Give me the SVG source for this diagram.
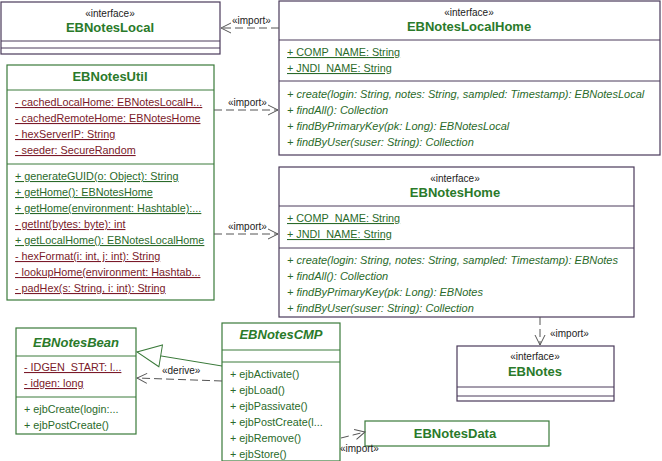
<svg xmlns="http://www.w3.org/2000/svg" width="662" height="461" viewBox="0 0 662 461">
<style>
text{font-family:"Liberation Sans",Arial,sans-serif;font-size:10.8px;fill:#2a6a2a}
.st{fill:#222;text-anchor:middle;font-size:10px}
.nm{font-size:13px;font-weight:bold;fill:#2a7a2a;text-anchor:middle}
.it{font-style:italic;font-size:11px}
.u{text-decoration:underline}
.r{fill:#7a1a2a}
.bp{fill:#fff;stroke:#4a3a5a;stroke-width:1.2}
.bg{fill:#fff;stroke:#3a7a3a;stroke-width:1.2}
.lp{stroke:#4a3a5a;stroke-width:1}
.lg{stroke:#3a7a3a;stroke-width:1}
.c{fill:none;stroke:#555;stroke-width:1;stroke-dasharray:8,4}
.cg{fill:none;stroke:#3a7a3a;stroke-width:1}
.lab{fill:#222;font-size:10px}
</style>
<defs>
<marker id="open" markerWidth="12" markerHeight="12" refX="11" refY="6" orient="auto" markerUnits="userSpaceOnUse"><path d="M1,1 L11,6 L1,11" fill="none" stroke="#555"/></marker>
<marker id="tri" markerWidth="26" markerHeight="26" refX="25" refY="13" orient="auto" markerUnits="userSpaceOnUse"><path d="M1,2 L25,13 L1,24 Z" fill="#fff" stroke="#3a7a3a"/></marker>
</defs>
<rect width="662" height="461" fill="#fff"/>
<g id="EBNotesLocal">
<rect class="bp" x="1" y="2" width="219" height="52"/>
<line class="lp" x1="1" y1="41" x2="220" y2="41"/><line class="lp" x1="1" y1="48" x2="220" y2="48"/>
<text class="st" x="110" y="17">«interface»</text><text class="nm" x="110" y="32">EBNotesLocal</text>
</g>
<g id="EBNotesLocalHome">
<rect class="bp" x="279" y="1" width="381" height="154"/>
<line class="lp" x1="279" y1="40" x2="660" y2="40"/><line class="lp" x1="279" y1="81" x2="660" y2="81"/>
<text class="st" x="469" y="16">«interface»</text><text class="nm" x="469" y="31">EBNotesLocalHome</text>
<text class="u" x="287" y="56">+ COMP_NAME: String</text><text class="u" x="287" y="72">+ JNDI_NAME: String</text>
<text class="it" x="287" y="98">+  create(login: String, notes: String, sampled: Timestamp): EBNotesLocal</text>
<text class="it" x="287" y="114">+  findAll(): Collection</text>
<text class="it" x="287" y="130">+  findByPrimaryKey(pk: Long): EBNotesLocal</text>
<text class="it" x="287" y="146">+  findByUser(suser: String): Collection</text>
</g>
<g id="EBNotesUtil">
<rect class="bg" x="7" y="65" width="207" height="235"/>
<line class="lg" x1="7" y1="90" x2="214" y2="90"/><line class="lg" x1="7" y1="164" x2="214" y2="164"/>
<text class="nm" x="110" y="81">EBNotesUtil</text>
<text class="u r" x="15" y="106">- cachedLocalHome: EBNotesLocalH...</text>
<text class="u r" x="15" y="122">- cachedRemoteHome: EBNotesHome</text>
<text class="u r" x="15" y="138">- hexServerIP: String</text>
<text class="u r" x="15" y="154">- seeder: SecureRandom</text>
<text class="u" x="15" y="180">+  generateGUID(o: Object): String</text>
<text class="u" x="15" y="196">+  getHome(): EBNotesHome</text>
<text class="u" x="15" y="212">+  getHome(environment: Hashtable):...</text>
<text class="u r" x="15" y="228">-  getInt(bytes: byte): int</text>
<text class="u" x="15" y="244">+  getLocalHome(): EBNotesLocalHome</text>
<text class="u r" x="15" y="260">-  hexFormat(i: int, j: int): String</text>
<text class="u r" x="15" y="276">-  lookupHome(environment: Hashtab...</text>
<text class="u r" x="15" y="292">-  padHex(s: String, i: int): String</text>
</g>
<g id="EBNotesHome">
<rect class="bp" x="279" y="167" width="355" height="150"/>
<line class="lp" x1="279" y1="206" x2="634" y2="206"/><line class="lp" x1="279" y1="248" x2="634" y2="248"/>
<text class="st" x="455" y="182">«interface»</text><text class="nm" x="455" y="197">EBNotesHome</text>
<text class="u" x="287" y="222">+ COMP_NAME: String</text><text class="u" x="287" y="238">+ JNDI_NAME: String</text>
<text class="it" x="287" y="264">+  create(login: String, notes: String, sampled: Timestamp): EBNotes</text>
<text class="it" x="287" y="280">+  findAll(): Collection</text>
<text class="it" x="287" y="296">+  findByPrimaryKey(pk: Long): EBNotes</text>
<text class="it" x="287" y="312">+  findByUser(suser: String): Collection</text>
</g>
<g id="EBNotes">
<rect class="bp" x="457" y="346" width="157" height="55"/>
<line class="lp" x1="457" y1="387" x2="614" y2="387"/><line class="lp" x1="457" y1="396" x2="614" y2="396"/>
<text class="st" x="535" y="360">«interface»</text><text class="nm" x="535" y="376">EBNotes</text>
</g>
<g id="EBNotesBean">
<rect class="bg" x="16" y="328" width="120" height="106"/>
<line class="lg" x1="16" y1="356" x2="136" y2="356"/><line class="lg" x1="16" y1="397" x2="136" y2="397"/>
<text class="nm it" x="76" y="347" style="font-size:13px">EBNotesBean</text>
<text class="u r" x="24" y="371">- IDGEN_START: l...</text>
<text class="u r" x="24" y="387">- idgen: long</text>
<text x="24" y="413">+  ejbCreate(login:...</text>
<text x="24" y="429">+  ejbPostCreate()</text>
</g>
<g id="EBNotesCMP">
<rect class="bg" x="222" y="323" width="118" height="138"/>
<line class="lg" x1="222" y1="350" x2="340" y2="350"/><line class="lg" x1="222" y1="362" x2="340" y2="362"/>
<text class="nm it" x="281" y="339" style="font-size:13px">EBNotesCMP</text>
<text x="230" y="378">+  ejbActivate()</text>
<text x="230" y="394">+  ejbLoad()</text>
<text x="230" y="410">+  ejbPassivate()</text>
<text x="230" y="426">+  ejbPostCreate(l...</text>
<text x="230" y="442">+  ejbRemove()</text>
<text x="230" y="458">+  ejbStore()</text>
</g>
<g id="EBNotesData">
<rect class="bg" x="365" y="421" width="184" height="25"/>
<text class="nm" x="455" y="438">EBNotesData</text>
</g>
<g id="connectors">
<path class="c" d="M279,28 L221,28" marker-end="url(#open)"/>
<text class="lab" x="232" y="24">«import»</text>
<path class="c" d="M214,110 L278,110" marker-end="url(#open)"/>
<text class="lab" x="228" y="106">«import»</text>
<path class="c" d="M214,234 L278,234" marker-end="url(#open)"/>
<text class="lab" x="228" y="230">«import»</text>
<path class="c" d="M540,317 L540,345" marker-end="url(#open)"/>
<text class="lab" x="550" y="337">«import»</text>
<path class="cg" d="M222,366 L137,352" marker-end="url(#tri)"/>
<path class="c" d="M222,381 L137,378" marker-end="url(#open)"/>
<text class="lab" x="162" y="374">«derive»</text>
<path class="c" d="M341,438 L365,432" marker-end="url(#open)"/>
<text class="lab" x="340" y="452">«import»</text>
</g>
</svg>
